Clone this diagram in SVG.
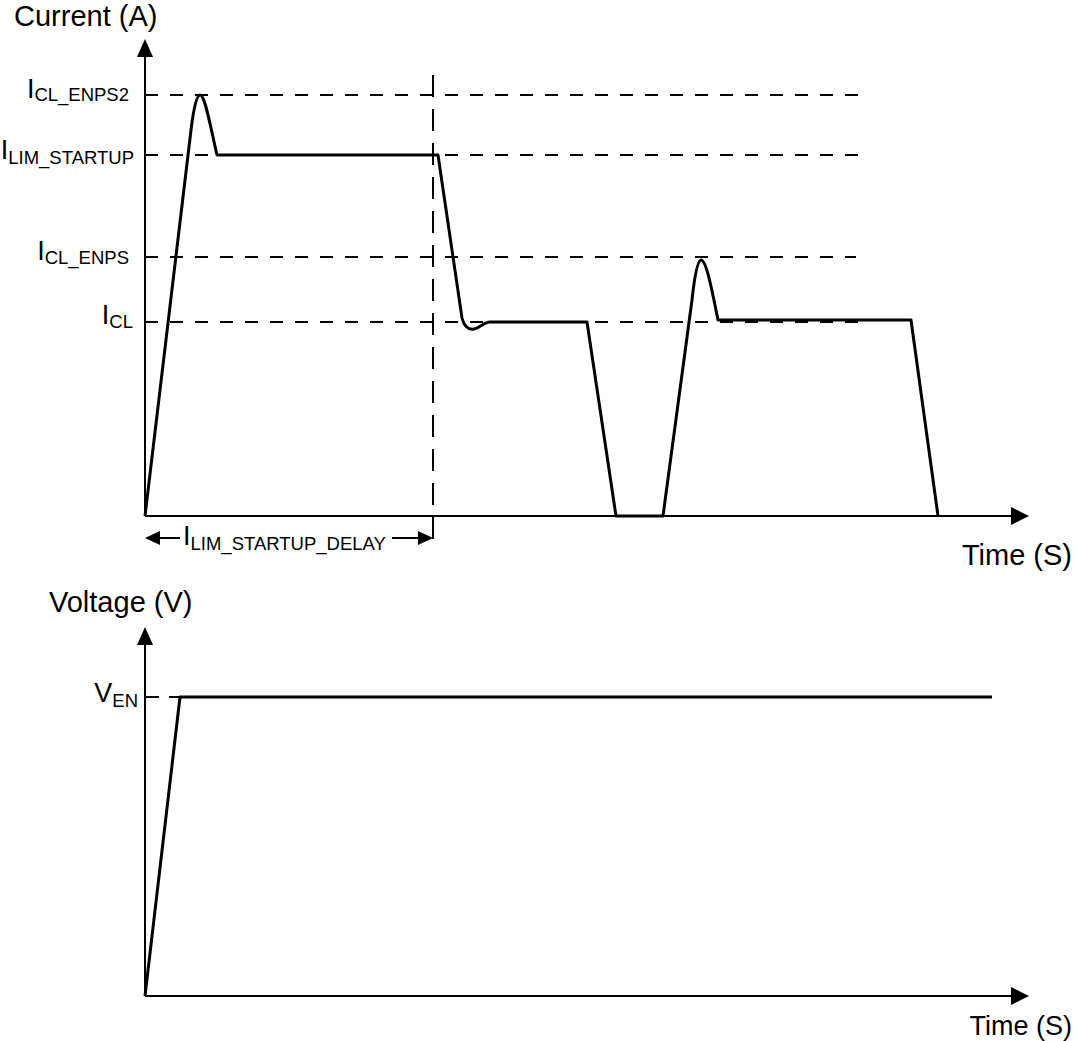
<svg xmlns="http://www.w3.org/2000/svg" width="1079" height="1041" viewBox="0 0 1079 1041">
<style>
.axis{stroke:#000;stroke-width:2;fill:none}
.dash{stroke:#000;stroke-width:2;fill:none;stroke-dasharray:13 12}
.vdash{stroke:#000;stroke-width:2;fill:none;stroke-dasharray:22 12}
.wave{stroke:#000;stroke-width:3;fill:none;stroke-linejoin:round}
.t{font-family:"Liberation Sans",Arial,sans-serif;fill:#000}
.big{font-size:29px}
.lab{font-size:27px}
.sub{font-size:18.5px}
.head{fill:#000}
</style>
<rect width="1079" height="1041" fill="#fff"/>
<g id="connectors">
<line class="dash" x1="145" y1="95" x2="858" y2="95"/>
<line class="dash" x1="145" y1="155" x2="858" y2="155"/>
<line class="dash" x1="145" y1="257" x2="856" y2="257"/>
<line class="dash" x1="145" y1="322" x2="870" y2="322"/>
<line class="vdash" x1="433" y1="75" x2="433" y2="540"/>
<line class="axis" x1="145" y1="516" x2="145" y2="55"/>
<polygon class="head" points="145,39 137,57 153,57"/>
<line class="axis" x1="145" y1="516" x2="1012" y2="516"/>
<polygon class="head" points="1029,516 1011,507 1011,525"/>
<line class="axis" x1="158" y1="538" x2="180" y2="538"/>
<polygon class="head" points="145,538 160,531 160,545"/>
<line class="axis" x1="392" y1="538" x2="420" y2="538"/>
<polygon class="head" points="433,538 418,531 418,545"/>
<path class="wave" d="M145,516 L191,130 C194,105 197,95 200,95 C205,95 210,125 217,155 L438,155 L462,318 C464,326 468,330 474,329 C480,328 484,322 490,322 L587,322 L616,516 L663,516 L692,300 C695,272 698,260 701,260 C706,260 711,285 718,320 L911,320 L938,516"/>
<line class="axis" x1="145" y1="996" x2="145" y2="643"/>
<polygon class="head" points="145,627 137,645 153,645"/>
<line class="axis" x1="145" y1="996" x2="1012" y2="996"/>
<polygon class="head" points="1029,996 1011,987 1011,1005"/>
<line class="dash" x1="145" y1="697" x2="180" y2="697" style="stroke-dasharray:14 10"/>
<path class="wave" d="M145,996 L180,697 L992,697"/>
</g>
<g id="current-axis-label"><text class="t big" x="14" y="26">Current (A)</text></g>
<g id="time-label-1"><text class="t big" x="1072" y="565" text-anchor="end">Time (S)</text></g>
<g id="voltage-axis-label"><text class="t big" x="49" y="612">Voltage (V)</text></g>
<g id="time-label-2"><text class="t lab" x="1072" y="1035" text-anchor="end">Time (S)</text></g>
<g id="label-icl-enps2"><text class="t lab" x="129" y="98" text-anchor="end">I<tspan class="sub" dy="3">CL_ENPS2</tspan></text></g>
<g id="label-ilim-startup"><text class="t lab" x="134" y="159" text-anchor="end">I<tspan class="sub" dy="5">LIM_STARTUP</tspan></text></g>
<g id="label-icl-enps"><text class="t lab" x="129" y="260" text-anchor="end">I<tspan class="sub" dy="4">CL_ENPS</tspan></text></g>
<g id="label-icl"><text class="t lab" x="133" y="324" text-anchor="end">I<tspan class="sub" dy="4">CL</tspan></text></g>
<g id="label-delay"><text class="t lab" x="183" y="545">I<tspan class="sub" dy="5">LIM_STARTUP_DELAY</tspan></text></g>
<g id="label-ven"><text class="t lab" x="138" y="702" text-anchor="end">V<tspan class="sub" dy="5">EN</tspan></text></g>
</svg>
